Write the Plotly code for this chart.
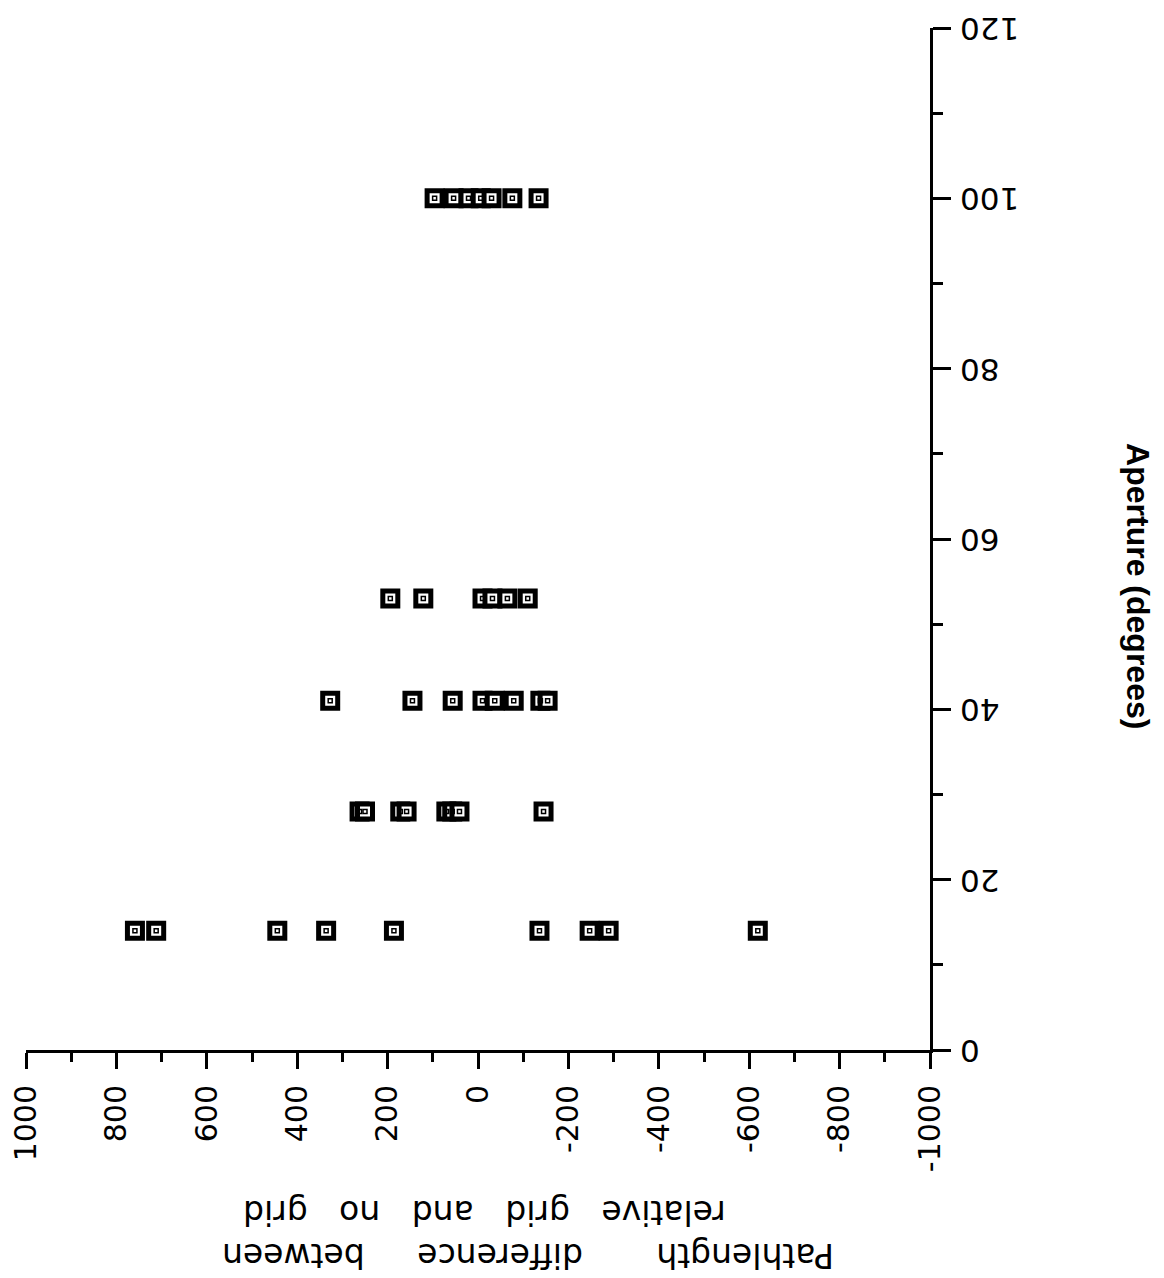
import plotly.graph_objects as go

# Aperture (degrees) and pathlength difference values, read per aperture group
ap_14 = [14, 14, 14, 14, 14, 14, 14, 14, 14]
pd_14 = [759, 712, 444, 336, 186, -136, -247, -289, -619]

ap_28 = [28, 28, 28, 28, 28, 28, 28, 28]
pd_28 = [262, 250, 172, 158, 70, 57, 41, -145]

ap_41 = [41, 41, 41, 41, 41, 41, 41, 41]
pd_41 = [327, 145, 56, -10, -37, -79, -138, -154]

ap_53 = [53, 53, 53, 53, 53, 53]
pd_53 = [194, 121, -10, -32, -65, -110]

ap_100 = [100, 100, 100, 100, 100, 100, 100]
pd_100 = [96, 54, 21, -6, -30, -76, -134]

x_ticks = [1000, 800, 600, 400, 200, 0, -200, -400, -600, -800, -1000]
x_ticktext = ["1000", "800", "600", "400", "200", "0", "-200", "-400", "-600", "-800", "-1000"]
x_minor = [900, 700, 500, 300, 100, -100, -300, -500, -700, -900]
y_ticks = [0, 20, 40, 60, 80, 100, 120]
y_ticktext = ["0", "20", "40", "60", "80", "100", "120"]
y_minor = [10, 30, 50, 70, 90, 110]

xs = pd_14 + pd_28 + pd_41 + pd_53 + pd_100
ys = ap_14 + ap_28 + ap_41 + ap_53 + ap_100

FONT = "DejaVu Sans, Liberation Sans, Arial, sans-serif"
FIG_SPACE = "\u2007"
# pad labels on the reading-start side so that, upside down, their left edges line up
y_ticklabels = [FIG_SPACE * (3 - len(t)) + t for t in y_ticktext]

fig = go.Figure()
fig.add_trace(go.Scatter(
    x=xs, y=ys, mode="markers", cliponaxis=False,
    marker=dict(symbol="square", size=15, color="white",
                line=dict(color="black", width=5)),
    hoverinfo="skip"))
fig.add_trace(go.Scatter(
    x=xs, y=ys, mode="markers", cliponaxis=False,
    marker=dict(symbol="square-open", size=4, color="black",
                line=dict(color="black", width=1.5)),
    hoverinfo="skip"))

fig.update_layout(
    width=1164, height=1278,
    margin=dict(l=18, r=242, t=20, b=236, autoexpand=False),
    paper_bgcolor="white", plot_bgcolor="white",
    showlegend=False,
    font=dict(family=FONT, color="black"),
    xaxis=dict(
        range=[1000, -1000], tickmode="array", tickvals=x_ticks, ticktext=x_ticktext,
        ticks="outside", ticklen=16, tickwidth=3, tickcolor="black",
        showline=True, linewidth=3, linecolor="black", automargin=False,
        showgrid=False, zeroline=False, tickangle=-90, ticklabeloverflow="allow",
        tickfont=dict(size=30, family=FONT), ticklabelstandoff=4,
        minor=dict(tickmode="array", tickvals=x_minor, ticks="outside",
                   ticklen=9, tickwidth=3, tickcolor="black", showgrid=False),
    ),
    yaxis=dict(
        range=[0, 120], side="right", tickmode="array", tickvals=y_ticks, ticktext=y_ticklabels,
        ticks="outside", ticklen=18, tickwidth=3, tickcolor="black",
        showline=True, linewidth=3, linecolor="black", automargin=False,
        showgrid=False, zeroline=False, tickangle=180, ticklabeloverflow="allow",
        tickfont=dict(size=31, family=FONT), ticklabelstandoff=62, ticklabelshift=10,
        minor=dict(tickmode="array", tickvals=y_minor, ticks="outside",
                   ticklen=10, tickwidth=3, tickcolor="black", showgrid=False),
    ),
    annotations=[
        dict(text="Pathlength" + " " * 7 + "difference" + " " * 5 + "between"
                  + "<br>relative   grid   and   no   grid\u00a0\u00a0",
             x=0.2146, y=-0.18, xref="paper", yref="paper", align="right",
             xanchor="left", yanchor="middle", showarrow=False, textangle=180,
             font=dict(size=33, family=FONT, color="black")),
        dict(text="<b>Aperture (degrees)</b>",
             x=1.230, y=0.454, xref="paper", yref="paper",
             xanchor="center", yanchor="middle", showarrow=False, textangle=90,
             font=dict(size=32, family="Liberation Sans, Arial, sans-serif", color="black")),
    ],
)

fig.write_html("out.html")
